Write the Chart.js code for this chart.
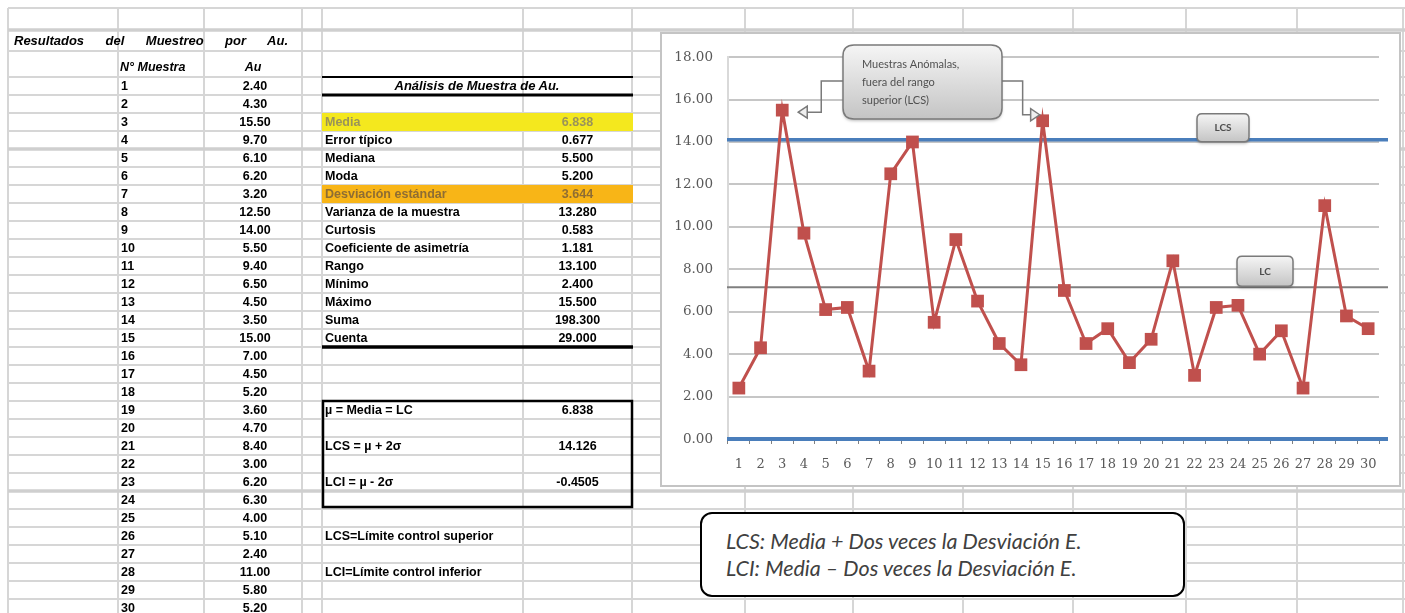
<!DOCTYPE html>
<html lang="es">
<head>
<meta charset="utf-8">
<title>Análisis de Muestra de Au.</title>
<script src="https://cdn.jsdelivr.net/npm/chart.js@4.4.1/dist/chart.umd.min.js"></script>
<style>
    html, body { margin: 0; padding: 0; background: #fff; }
    body { width: 1405px; height: 613px; position: relative; overflow: hidden; font-family: 'Liberation Sans', Arial, sans-serif; }
    #hoja { position: absolute; left: 0; top: 0; }
    .celda { position: absolute; height: 18px; line-height: 18px; font-size: 12.5px; font-weight: bold; color: #000; white-space: nowrap; }
    #grafico { position: absolute; left: 660px; top: 32px; width: 741px; height: 455px; border: 2px solid #c4c4c4; box-sizing: border-box; background: #fff; }
    #nota { position: absolute; left: 700px; top: 512px; width: 485px; height: 85px; border: 2px solid #000; border-radius: 12px; background: #fff; box-sizing: border-box; font-family: Lato, sans-serif; font-style: italic; font-size: 21.5px; color: #404040; padding: 14px 0 0 24px; line-height: 27px; }
</style>
</head>
<body>
<canvas id="hoja" width="1405" height="613"></canvas>
<div id="celdas"></div>
<div id="grafico"><canvas id="auChart" width="737" height="451"></canvas></div>
<div id="nota">LCS: Media + Dos veces la Desviación E.<br>LCI: Media – Dos veces la Desviación E.</div>

<script>
// ---- datos ----
const muestras = ['1','2','3','4','5','6','7','8','9','10','11','12','13','14','15',
                  '16','17','18','19','20','21','22','23','24','25','26','27','28','29','30'];
const au = [2.40, 4.30, 15.50, 9.70, 6.10, 6.20, 3.20, 12.50, 14.00, 5.50,
            9.40, 6.50, 4.50, 3.50, 15.00, 7.00, 4.50, 5.20, 3.60, 4.70,
            8.40, 3.00, 6.20, 6.30, 4.00, 5.10, 2.40, 11.00, 5.80, 5.20];

const estadisticosNombres = ['Media', 'Error típico', 'Mediana', 'Moda', 'Desviación estándar',
    'Varianza de la muestra', 'Curtosis', 'Coeficiente de asimetría', 'Rango', 'Mínimo',
    'Máximo', 'Suma', 'Cuenta'];
const estadisticosValores = ['6.838', '0.677', '5.500', '5.200', '3.644', '13.280', '0.583',
    '1.181', '13.100', '2.400', '15.500', '198.300', '29.000'];

const limitesNombres = ['µ = Media = LC', 'LCS = µ + 2σ', 'LCI = µ - 2σ'];
const limitesValores = ['6.838', '14.126', '-0.4505'];

// lineas de control tal como se ven en el grafico
const lcsLinea = 14.1;
const lcLinea = 7.15;
const lciLinea = 0;

const yMin = 0, yMax = 18, yPaso = 2;

// ---- hoja de calculo (fondo) ----
const colX = [8, 118, 204, 302, 322, 523, 632, 745, 853, 963, 1073, 1186, 1297, 1403];
const filaTop = r => 77 + (r - 1) * 18;

const hoja = document.getElementById('hoja').getContext('2d');
hoja.strokeStyle = '#d6d6d6';
hoja.lineWidth = 2;
const filasY = [8, 30, 51];
for (let r = 1; r <= 31; r++) filasY.push(filaTop(r));
filasY.forEach(y => { hoja.beginPath(); hoja.moveTo(8, y); hoja.lineTo(1405, y); hoja.stroke(); });
colX.forEach(x => { hoja.beginPath(); hoja.moveTo(x, 8); hoja.lineTo(x, 613); hoja.stroke(); });
// saltos de pagina, algo mas gruesos
hoja.lineWidth = 3.5;
hoja.strokeStyle = '#cfcfcf';
[30, filaTop(5), filaTop(24)].forEach(y => { hoja.beginPath(); hoja.moveTo(8, y); hoja.lineTo(1405, y); hoja.stroke(); });

// rellenos
hoja.fillStyle = '#f4e81e';
hoja.fillRect(322, filaTop(3), 311, 18);
hoja.fillStyle = '#f8b517';
hoja.fillRect(322, filaTop(7), 311, 18);

// bordes negros
hoja.strokeStyle = '#000';
hoja.lineWidth = 2;
hoja.beginPath(); hoja.moveTo(322, filaTop(1)); hoja.lineTo(633, filaTop(1)); hoja.stroke();
hoja.lineWidth = 3;
hoja.beginPath(); hoja.moveTo(322, filaTop(2)); hoja.lineTo(633, filaTop(2)); hoja.stroke();
hoja.lineWidth = 3.5;
hoja.beginPath(); hoja.moveTo(322, filaTop(16)); hoja.lineTo(633, filaTop(16)); hoja.stroke();
hoja.lineWidth = 2.5;
hoja.strokeRect(323, filaTop(19), 309, filaTop(25) - filaTop(19) - 2);

// textos de celdas
const celdas = document.getElementById('celdas');
function celda(texto, x0, x1, top, align, estilo) {
    const d = document.createElement('div');
    d.className = 'celda';
    d.textContent = texto;
    d.style.left = x0 + 'px';
    d.style.width = (x1 - x0) + 'px';
    d.style.top = top + 'px';
    d.style.textAlign = align || 'left';
    if (estilo) Object.assign(d.style, estilo);
    celdas.appendChild(d);
}

celda('Resultados del Muestreo por Au.', 14, 288, 32, 'justify', { fontStyle: 'italic', textAlignLast: 'justify', fontSize: '13px' });
celda('N° Muestra', 120, 204, 58, 'left', { fontStyle: 'italic' });
celda('Au', 204, 302, 58, 'center', { fontStyle: 'italic' });

muestras.forEach((m, i) => {
    celda(m, 121, 204, filaTop(i + 1), 'left');
    celda(au[i].toFixed(2), 204, 306, filaTop(i + 1), 'center');
});

celda('Análisis de Muestra de Au.', 322, 632, filaTop(1), 'center', { fontStyle: 'italic', fontSize: '13px' });
estadisticosNombres.forEach((n, i) => {
    const r = i + 3;
    let color = '#000';
    if (n === 'Media') color = '#9a935a';
    if (n === 'Desviación estándar') color = '#8e6d33';
    celda(n, 325, 523, filaTop(r), 'left', { color });
    celda(estadisticosValores[i], 523, 632, filaTop(r), 'center', { color });
});

limitesNombres.forEach((n, i) => {
    const r = 19 + i * 2;
    celda(n, 325, 523, filaTop(r), 'left');
    celda(limitesValores[i], 523, 632, filaTop(r), 'center');
});
celda('LCS=Límite control superior', 325, 632, filaTop(26), 'left');
celda('LCI=Límite control inferior', 325, 632, filaTop(28), 'left');

// ---- grafico ----
function cajaRedonda(ctx, x, y, w, h, r) {
    ctx.beginPath();
    ctx.moveTo(x + r, y);
    ctx.lineTo(x + w - r, y);
    ctx.quadraticCurveTo(x + w, y, x + w, y + r);
    ctx.lineTo(x + w, y + h - r);
    ctx.quadraticCurveTo(x + w, y + h, x + w - r, y + h);
    ctx.lineTo(x + r, y + h);
    ctx.quadraticCurveTo(x, y + h, x, y + h - r);
    ctx.lineTo(x, y + r);
    ctx.quadraticCurveTo(x, y, x + r, y);
    ctx.closePath();
}

function cajaGris(ctx, x, y, w, h, r) {
    ctx.save();
    ctx.shadowColor = 'rgba(0,0,0,0.25)';
    ctx.shadowBlur = 3;
    ctx.shadowOffsetY = 2;
    const g = ctx.createLinearGradient(0, y, 0, y + h);
    g.addColorStop(0, '#f5f5f5');
    g.addColorStop(1, '#c4c4c4');
    cajaRedonda(ctx, x, y, w, h, r);
    ctx.fillStyle = g;
    ctx.fill();
    ctx.restore();
    cajaRedonda(ctx, x, y, w, h, r);
    ctx.strokeStyle = '#7a7a7a';
    ctx.lineWidth = 1.5;
    ctx.stroke();
}

function flecha(ctx, puntos, dir) {
    ctx.save();
    ctx.strokeStyle = '#7a7a7a';
    ctx.lineWidth = 1.5;
    ctx.beginPath();
    ctx.moveTo(puntos[0][0], puntos[0][1]);
    for (let i = 1; i < puntos.length; i++) ctx.lineTo(puntos[i][0], puntos[i][1]);
    ctx.stroke();
    const [tx, ty] = puntos[puntos.length - 1];
    ctx.beginPath();
    ctx.moveTo(tx, ty);
    ctx.lineTo(tx - 9 * dir, ty - 6);
    ctx.lineTo(tx - 9 * dir, ty + 6);
    ctx.closePath();
    ctx.fillStyle = '#efefef';
    ctx.fill();
    ctx.stroke();
    ctx.restore();
}

const lineasControl = {
    id: 'lineasControl',
    beforeDatasetsDraw(chart) {
        const { ctx, chartArea: a, scales: { y } } = chart;
        const linea = (v, color, ancho) => {
            const py = y.getPixelForValue(v);
            ctx.save();
            ctx.strokeStyle = color;
            ctx.lineWidth = ancho;
            ctx.beginPath();
            ctx.moveTo(a.left - 1, py);
            ctx.lineTo(a.right + 9, py);
            ctx.stroke();
            ctx.restore();
        };
        linea(lcLinea, '#7f7f7f', 2);
        linea(lcsLinea, '#4a7ebb', 3.5);
        linea(lciLinea, '#4a7ebb', 4);
    }
};

const anotaciones = {
    id: 'anotaciones',
    afterDatasetsDraw(chart) {
        const { ctx, chartArea: a, scales: { y } } = chart;
        const pts = chart.getDatasetMeta(0).data;

        // etiquetas LCS / LC
        const yLcs = y.getPixelForValue(lcsLinea);
        const yLc = y.getPixelForValue(lcLinea);
        cajaGris(ctx, a.left + 469, yLcs - 26, 52, 28, 5);
        cajaGris(ctx, a.left + 509, yLc - 31, 56, 30, 5);
        ctx.save();
        ctx.fillStyle = '#4d4d4d';
        ctx.font = 'bold 10px Lato';
        ctx.textAlign = 'center';
        ctx.textBaseline = 'middle';
        ctx.fillText('LCS', a.left + 495, yLcs - 12);
        ctx.fillText('LC', a.left + 537, yLc - 16);
        ctx.restore();

        // llamada de muestras anomalas
        const bx = a.left + 115, by = a.top - 12, bw = 159, bh = 74;
        const p3 = pts[2], p15 = pts[14];
        flecha(ctx, [[bx, by + 36], [p3.x + 39, by + 36], [p3.x + 39, p3.y + 2], [p3.x + 16, p3.y + 2]], -1);
        flecha(ctx, [[bx + bw, by + 36], [p15.x - 20, by + 36], [p15.x - 20, p15.y - 6], [p15.x - 3, p15.y - 6]], 1);
        cajaGris(ctx, bx, by, bw, bh, 11);
        ctx.save();
        ctx.fillStyle = '#505050';
        ctx.font = '11px Lato';
        ctx.textBaseline = 'middle';
        ['Muestras Anómalas,', 'fuera del rango', 'superior (LCS)'].forEach((t, i) => {
            ctx.fillText(t, bx + 19, by + 19 + i * 18);
        });
        ctx.restore();
    }
};

const ctx = document.getElementById('auChart');
new Chart(ctx, {
    type: 'line',
    data: {
        labels: muestras,
        datasets: [{
            label: 'Au',
            data: au,
            borderColor: '#c0504d',
            backgroundColor: '#c0504d',
            borderWidth: 3,
            pointStyle: 'rect',
            pointRadius: 9,
            pointBackgroundColor: '#c0504d',
            pointBorderColor: '#c0504d',
            pointBorderWidth: 0,
            tension: 0,
            clip: false
        }]
    },
    options: {
        responsive: false,
        devicePixelRatio: 1,
        animation: false,
        layout: { padding: { left: 0, right: 20, top: 21, bottom: 0 } },
        plugins: {
            legend: { display: false },
            tooltip: { enabled: false }
        },
        scales: {
            y: {
                min: yMin,
                max: yMax,
                afterFit: s => { s.width = 66; },
                ticks: {
                    stepSize: yPaso,
                    padding: 15,
                    color: '#595959',
                    font: { family: 'DejaVu Serif', size: 13.5 },
                    callback: v => v.toFixed(2)
                },
                grid: { color: '#c6c6c6', lineWidth: 2, drawTicks: false },
                border: { color: '#d9d9d9', width: 2 }
            },
            x: {
                offset: true,
                afterFit: s => { s.height = 46; },
                ticks: {
                    autoSkip: false,
                    maxRotation: 0,
                    padding: 13,
                    color: '#595959',
                    font: { family: 'DejaVu Serif', size: 13 }
                },
                grid: { drawOnChartArea: false, drawTicks: true, tickLength: 5, color: '#808080', lineWidth: 1, offset: true },
                border: { display: false }
            }
        }
    },
    plugins: [lineasControl, anotaciones]
});
</script>
</body>
</html>
